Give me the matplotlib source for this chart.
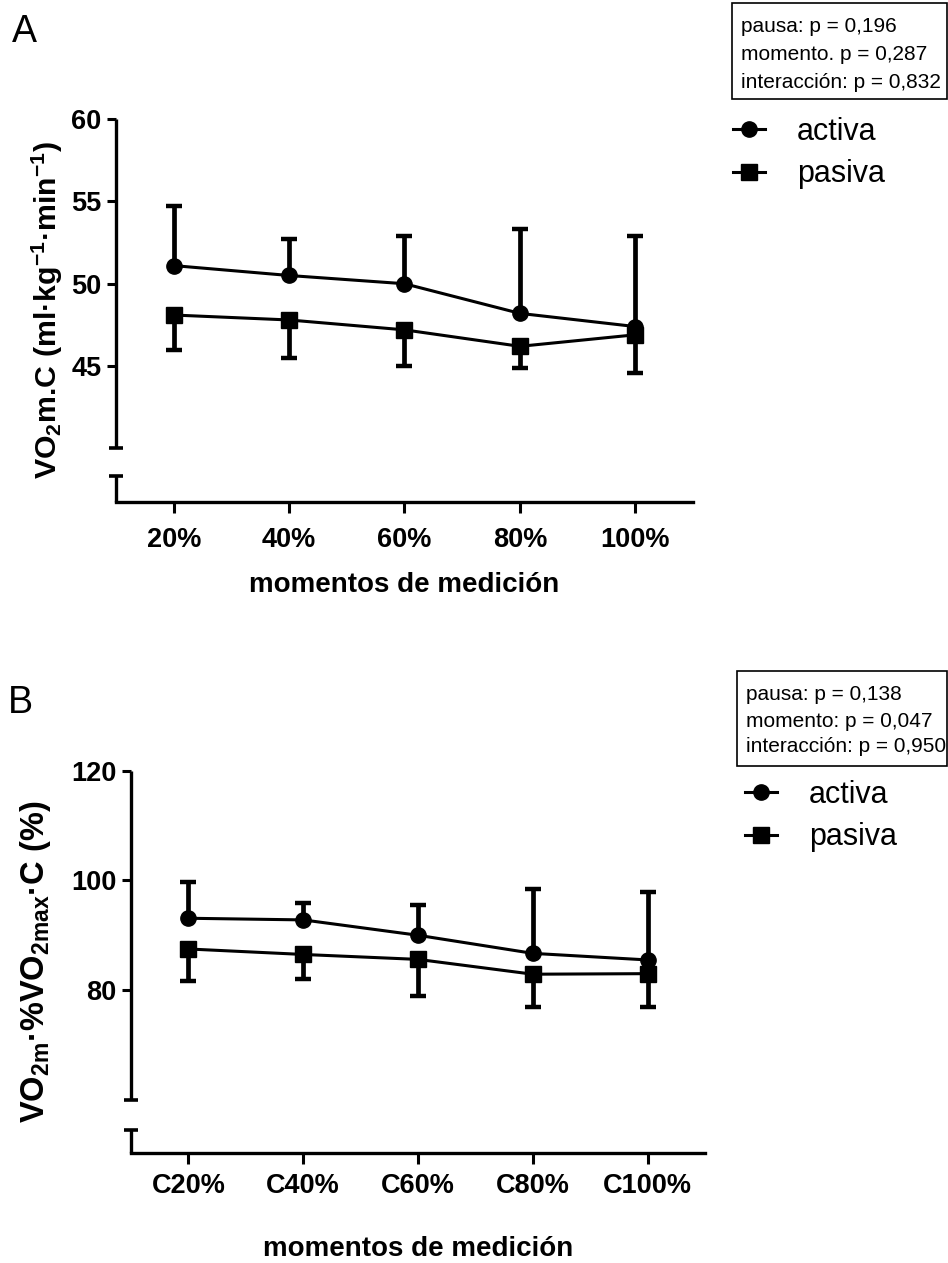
import numpy as np
import matplotlib
matplotlib.use('Agg')
import matplotlib.pyplot as plt
import matplotlib.transforms as mtransforms
from matplotlib.lines import Line2D
from matplotlib.patches import Rectangle

plt.rcParams['font.family'] = ['Liberation Sans', 'DejaVu Sans']
plt.rcParams['mathtext.fontset'] = 'custom'
plt.rcParams['mathtext.rm'] = 'Liberation Sans:bold'
plt.rcParams['mathtext.it'] = 'Liberation Sans:bold'
plt.rcParams['mathtext.bf'] = 'Liberation Sans:bold'
plt.rcParams['mathtext.default'] = 'rm'

# panel A: VO2 medio por carrera (media y DE)
momentos_a = ['20%', '40%', '60%', '80%', '100%']
activa_a = [51.1, 50.5, 50.0, 48.2, 47.4]
activa_a_de = [3.6, 2.2, 2.9, 5.1, 5.5]
pasiva_a = [48.1, 47.8, 47.2, 46.2, 46.9]
pasiva_a_de = [2.1, 2.3, 2.2, 1.3, 2.3]
stats_a = ['pausa: p = 0,196', 'momento. p = 0,287', 'interacción: p = 0,832']

# panel B: VO2 medio como % del VO2max
momentos_b = ['C20%', 'C40%', 'C60%', 'C80%', 'C100%']
activa_b = [93.1, 92.8, 90.0, 86.7, 85.5]
activa_b_de = [6.6, 3.1, 5.6, 11.7, 12.3]
pasiva_b = [87.5, 86.5, 85.6, 82.9, 83.0]
pasiva_b_de = [5.8, 4.5, 6.6, 5.9, 6.1]
stats_b = ['pausa: p = 0,138', 'momento: p = 0,047', 'interacción: p = 0,950']

W, H = 948, 1263
fig = plt.figure(figsize=(W / 100, H / 100), dpi=100)


def px(x, y):
    return x / W, 1 - y / H


def panel(rect, labels, act, act_de, pas, pas_de, yticks, ylim, corte, ylabel,
          ylabel_size, xpad, labelpad):
    ax = fig.add_axes(rect)
    x = np.arange(1, len(labels) + 1)
    act = np.array(act)
    pas = np.array(pas)
    # barras de error de un solo lado: activa hacia arriba, pasiva hacia abajo
    ax.vlines(x, act, act + np.array(act_de), color='k', lw=3.4, zorder=2)
    ax.plot(x, act + np.array(act_de), ls='none', marker='_', ms=12, mew=3.2, color='k', zorder=2)
    ax.vlines(x, pas - np.array(pas_de), pas, color='k', lw=3.4, zorder=2)
    ax.plot(x, pas - np.array(pas_de), ls='none', marker='_', ms=12, mew=3.2, color='k', zorder=2)
    ax.plot(x, act, '-o', color='k', lw=2.2, ms=11, zorder=3)
    ax.plot(x, pas, '-s', color='k', lw=2.2, ms=11, zorder=3)

    ax.set_xlim(0.5, 5.5)
    ax.set_ylim(*ylim)
    ax.set_xticks(x)
    ax.set_xticklabels(labels, fontsize=19.5, fontweight='bold')
    ax.set_yticks(yticks)
    ax.set_yticklabels([str(t) for t in yticks], fontsize=19.5, fontweight='bold')
    ax.tick_params(axis='y', length=6.5, width=2.2, pad=4)
    ax.tick_params(axis='x', length=8, width=2.2, pad=xpad)
    for s in ['top', 'right', 'left']:
        ax.spines[s].set_visible(False)
    ax.spines['bottom'].set_linewidth(2.4)

    # eje y cortado
    tr = mtransforms.blended_transform_factory(ax.transAxes, ax.transData)
    ax.plot([0, 0], [corte[1], ylim[1]], color='k', lw=2.4, transform=tr, clip_on=False,
            solid_capstyle='butt')
    ax.plot([0, 0], [ylim[0], corte[0]], color='k', lw=2.4, transform=tr, clip_on=False,
            solid_capstyle='butt')
    ax.plot([0, 0], corte, ls='none', marker='_', ms=10, mew=2.6, color='k',
            transform=tr, clip_on=False)

    ax.set_ylabel(ylabel, fontsize=ylabel_size, fontweight='bold')
    ax.set_xlabel('momentos de medición', fontsize=20, fontweight='bold', labelpad=labelpad)
    return ax


ax_a = panel([116 / W, 1 - 502 / H, 577 / W, 383 / H], momentos_a,
             activa_a, activa_a_de, pasiva_a, pasiva_a_de,
             [45, 50, 55, 60], (36.75, 60), (38.3, 40),
             r'VO$_2$m.C (ml·kg$^{-1}$·min$^{-1}$)', 21.8, 10, 14)
ax_b = panel([131 / W, 1 - 1152.7 / H, 574 / W, 382 / H], momentos_b,
             activa_b, activa_b_de, pasiva_b, pasiva_b_de,
             [80, 100, 120], (50.36, 120), (54.5, 60),
             r'VO$_{2m}$·%VO$_{2max}$·C (%)', 23.5, 6.5, 27)
ax_a.yaxis.set_label_coords(-0.088, 0.5)
ax_b.yaxis.set_label_coords(-0.136, 0.5)

# letras de panel
fig.text(*px(12, 42), 'A', fontsize=27, va='baseline')
fig.text(*px(8, 712.7), 'B', fontsize=27, va='baseline')

# cuadros de estadística
for (x0, y0, x1, y1), tx, lines_y, stats in [
        ((732, 3, 946.5, 99), 741, (27, 55, 82), stats_a),
        ((737, 670.7, 946.5, 766), 745.7, (694, 721, 746.7), stats_b)]:
    fig.patches.append(Rectangle(px(x0, y1), (x1 - x0) / W, (y1 - y0) / H, fill=False,
                                 ec='k', lw=1.2, transform=fig.transFigure))
    for yy, s in zip(lines_y, stats):
        fig.text(*px(tx, yy), s, fontsize=15, va='center')

# leyendas
handles = [Line2D([], [], color='k', marker='o', ms=11, lw=2.2),
           Line2D([], [], color='k', marker='s', ms=11, lw=2.2)]
for anchor in [(733, 117), (745, 780)]:
    fig.legend(handles, ['activa', 'pasiva'], loc='upper left', bbox_to_anchor=px(*anchor),
               frameon=False, borderpad=0, borderaxespad=0, handlelength=1.05,
               handletextpad=1.05, labelspacing=0.4, fontsize=22)

fig.savefig('out.png', dpi=100)
